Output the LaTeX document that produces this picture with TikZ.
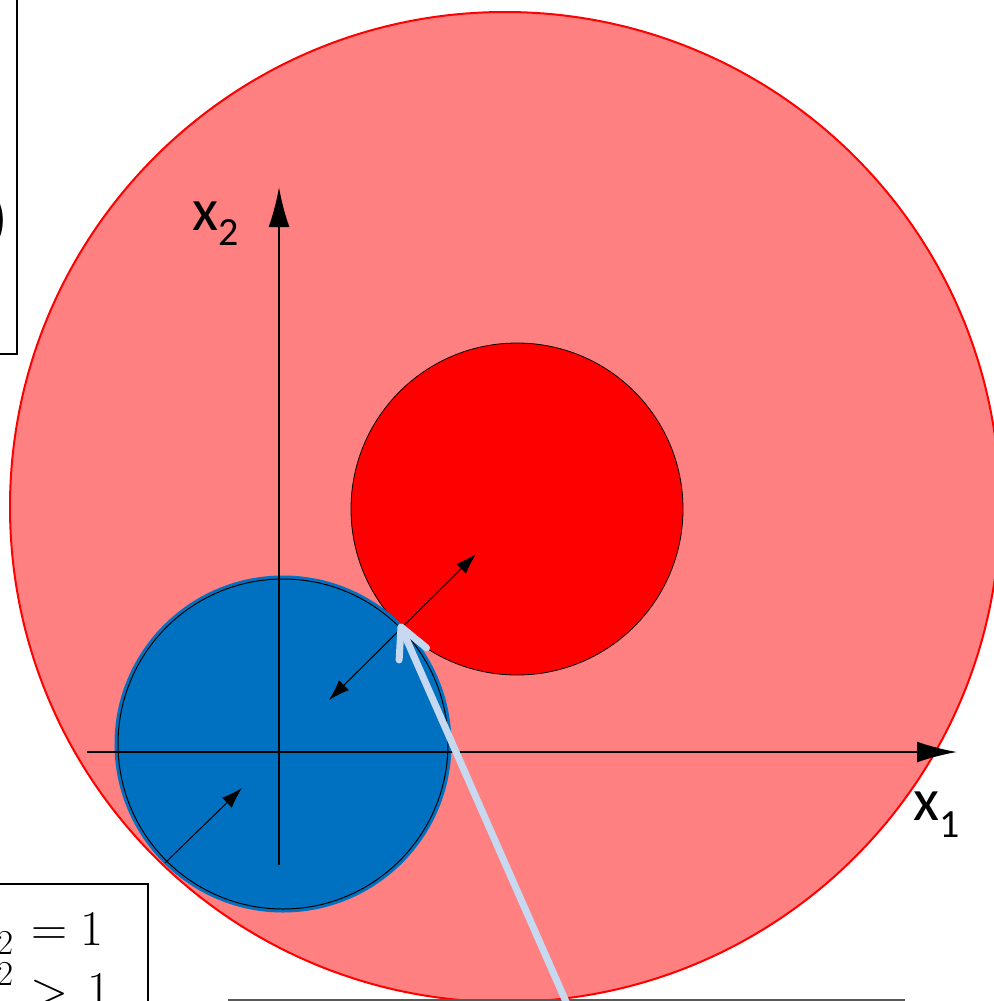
\documentclass[tikz,border=0pt]{standalone}
\usepackage{fontspec}
\newfontfamily\calib{Carlito}
\newfontfamily\lmserif{Latin Modern Roman}
\usetikzlibrary{arrows.meta,calc}
\definecolor{bigred}{HTML}{FF8080}
\definecolor{ballblue}{HTML}{0070C0}
\definecolor{pointer}{HTML}{C6D9F1}
\definecolor{edgegray}{HTML}{595959}
\begin{document}
\begin{tikzpicture}[x=1pt,y=-1pt,
  axis/.style={line width=2pt,-{Latex[length=40pt,width=21pt]}},
  gaparrow/.style={line width=1pt,{Latex[length=21pt,width=14pt]}-{Latex[length=21pt,width=14pt]}},
  radarrow/.style={line width=1pt,-{Latex[length=21pt,width=14pt]}},
  framebox/.style={line width=2pt,draw=black},
  axlabel/.style={inner sep=0pt,anchor=base west,font=\calib\fontsize{60}{60}\selectfont},
  eqtext/.style={inner sep=0pt,anchor=base west,font=\lmserif\fontsize{50}{50}\selectfont},
  pointerline/.style={draw=pointer,line width=7pt,line cap=round,line join=round}]
\useasboundingbox (0,0) rectangle (993,1001);
\fill[white] (0,0) rectangle (993,1001);

% centres and key points
\coordinate (Cbig) at (505,507);
\coordinate (Cred) at (517,509);
\coordinate (Cblue) at (283,744);
\coordinate (tp) at (401,627);

% circles
\draw[fill=bigred,draw=red,line width=2pt] (Cbig) circle[radius=495pt];
\draw[fill=red,draw=black,line width=0.8pt] (Cred) circle[radius=166pt];
\draw[fill=ballblue,draw=ballblue,line width=3pt] (Cblue) circle[radius=167pt];
\draw[black,line width=1pt] (Cblue) circle[radius=165pt];

% axes
\coordinate (xs) at (87,752);
\coordinate (xe) at (957,752);
\coordinate (ys) at (279,865);
\coordinate (ye) at (279,187);
\draw[axis] (xs) -- (xe);
\draw[axis] (ys) -- (ye);
\node[axlabel] (lx2) at (192,230) {x\raisebox{-15pt}{\fontsize{40}{40}\selectfont 2}};
\node[axlabel] (lx1) at (913,820) {x\raisebox{-17pt}{\fontsize{40}{40}\selectfont 1}};

% distance arrows
\coordinate (g1) at (329,700);
\coordinate (g2) at (476,554);
\draw[gaparrow] (g1) -- (g2);
\coordinate (r1) at (165,863);
\coordinate (r2) at (242,788);
\draw[radarrow] (r1) -- (r2);

% boxes (cut by the page edge)
\draw[framebox] (-20,-20) rectangle (17,354);
\node[inner sep=0pt,anchor=east,font=\calib\fontsize{60}{60}\selectfont] (paren) at (8,221) {)};
\draw[framebox] (-40,884) rectangle (148,1030);
\node[eqtext] (eq1) at (-28,945) {\textit{x}\raisebox{-9pt}{\fontsize{35}{35}\selectfont 2}\hspace{18pt}=\hspace{13pt}1};
\node[eqtext] (eq2) at (-28,1006) {\textit{x}\raisebox{21pt}{\fontsize{35}{35}\selectfont 2}\hspace{17pt}>\hspace{19pt}1};
\coordinate (gl) at (228,1000);
\coordinate (gr) at (905,1000);
\draw[edgegray,line width=1.5pt] (gl) -- (gr);

% pointer arrow
\coordinate (tail) at (567,1004);
\coordinate (b1) at ($(tp)!33pt!27:(tail)$);
\coordinate (b2) at ($(tp)!33pt!-27:(tail)$);
\draw[pointerline] (tail) -- (tp);
\draw[pointerline] (b1) -- (tp) -- (b2);
\end{tikzpicture}
\end{document}
